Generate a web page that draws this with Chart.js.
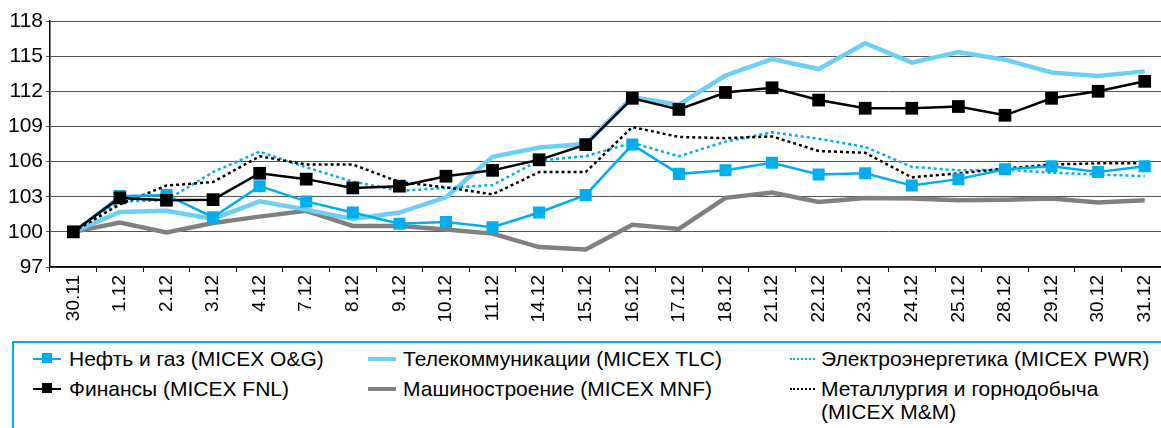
<!DOCTYPE html>
<html lang="ru">
<head>
<meta charset="utf-8">
<title>Отраслевые индексы ММВБ</title>
<script src="https://cdn.jsdelivr.net/npm/chart.js@4.4.1/dist/chart.umd.min.js"></script>
<style>
  html, body { margin: 0; padding: 0; background: #fff; width: 1161px; height: 428px; overflow: hidden; }
  #wrap { position: absolute; left: 0; top: 0; width: 1177px; height: 330px; }
  .legend {
    position: absolute; left: 12px; top: 341px; width: 1200px; height: 120px;
    border: 2px solid #00aeef;
    font-family: 'Liberation Sans', Arial, sans-serif; font-size: 21px; color: #000;
  }
  .item { position: absolute; line-height: 23px; white-space: nowrap; }
  .key { position: absolute; width: 28px; height: 23px; }
  .key i { position: absolute; left: 0; right: 0; top: 50%; }
  .key b { position: absolute; left: 9px; top: 6px; width: 10px; height: 10px; }
</style>
</head>
<body>
<div id="wrap"><canvas id="sectorChart"></canvas></div>

<div class="legend">
  <div class="key" style="left:19px;top:4px"><i style="border-top:2.5px solid #00aeef;margin-top:-1px"></i><b style="background:#00aeef"></b></div>
  <div class="item" style="left:55px;top:4px">Нефть и газ (MICEX O&amp;G)</div>
  <div class="key" style="left:19px;top:34px"><i style="border-top:2.5px solid #000;margin-top:-1px"></i><b style="background:#000"></b></div>
  <div class="item" style="left:55px;top:34px">Финансы (MICEX FNL)</div>

  <div class="key" style="left:354px;top:4px"><i style="border-top:4.5px solid #6dcff6;margin-top:-2px"></i></div>
  <div class="item" style="left:389px;top:4px">Телекоммуникации (MICEX TLC)</div>
  <div class="key" style="left:354px;top:34px"><i style="border-top:4.5px solid #808080;margin-top:-2px"></i></div>
  <div class="item" style="left:389px;top:34px">Машиностроение (MICEX MNF)</div>

  <div class="key" style="left:776px;top:4px;width:25px"><i style="border-top:2.5px dotted #00aeef;margin-top:-1px"></i></div>
  <div class="item" style="left:807px;top:4px">Электроэнергетика (MICEX PWR)</div>
  <div class="key" style="left:776px;top:34px;width:25px"><i style="border-top:2.5px dotted #000;margin-top:-1px"></i></div>
  <div class="item" style="left:807px;top:34px">Металлургия и горнодобыча<br>(MICEX M&amp;M)</div>
</div>

<script>
// trading days, 30 Nov - 31 Dec
const days = ['30.11', '1.12', '2.12', '3.12', '4.12', '7.12', '8.12', '9.12', '10.12', '11.12',
  '14.12', '15.12', '16.12', '17.12', '18.12', '21.12', '22.12', '23.12', '24.12', '25.12',
  '28.12', '29.12', '30.12', '31.12'];

// sector indices, 30.11 = 100
const finance = [100, 102.9, 102.7, 102.75, 105.0, 104.5, 103.75, 103.9, 104.75, 105.25,
  106.15, 107.45, 111.4, 110.45, 111.9, 112.3, 111.25, 110.55, 110.55, 110.7,
  109.95, 111.4, 112.0, 112.85];
const oilGas = [100, 103.05, 103.15, 101.25, 103.9, 102.6, 101.65, 100.7, 100.85, 100.4,
  101.65, 103.15, 107.45, 104.95, 105.25, 105.9, 104.9, 105.0, 103.95, 104.5,
  105.35, 105.6, 105.1, 105.6];
const telecom = [100, 101.7, 101.8, 101.1, 102.6, 101.9, 101.1, 101.65, 102.95, 106.4,
  107.2, 107.5, 111.5, 110.85, 113.35, 114.75, 113.9, 116.1, 114.45, 115.35,
  114.7, 113.6, 113.3, 113.7];
const power = [100, 102.6, 102.7, 105.1, 106.85, 105.5, 104.3, 103.5, 103.75, 104.0,
  106.1, 106.45, 107.6, 106.45, 107.7, 108.5, 107.95, 107.25, 105.55, 105.25,
  105.3, 105.05, 104.9, 104.75];
const metals = [100, 102.35, 103.95, 104.25, 106.45, 105.75, 105.75, 104.25, 103.8, 103.2,
  105.1, 105.1, 108.95, 108.1, 108.0, 108.15, 106.9, 106.75, 104.65, 105.0,
  105.4, 105.75, 105.85, 105.85];
const machinery = [100, 100.8, 99.95, 100.75, 101.3, 101.8, 100.5, 100.5, 100.2, 99.85,
  98.7, 98.5, 100.6, 100.25, 102.9, 103.35, 102.55, 102.9, 102.85, 102.7,
  102.75, 102.85, 102.5, 102.7];

const yMin = 97, yMax = 118, yStep = 3;

const font = { family: "'Liberation Sans', Arial, sans-serif" };

new Chart(document.getElementById('sectorChart').getContext('2d'), {
  type: 'line',
  data: {
    labels: days,
    datasets: [
      { label: 'Финансы (MICEX FNL)', data: finance, borderColor: '#000', backgroundColor: '#000',
        borderWidth: 2.5, pointStyle: 'rect', pointRadius: 9, pointBorderWidth: 0 },
      { label: 'Нефть и газ (MICEX O&G)', data: oilGas, borderColor: '#00aeef', backgroundColor: '#00aeef',
        borderWidth: 2.5, pointStyle: 'rect', pointRadius: 8.5, pointBorderWidth: 0 },
      { label: 'Металлургия и горнодобыча (MICEX M&M)', data: metals, borderColor: '#000',
        borderWidth: 2.5, borderDash: [3, 3], pointRadius: 0 },
      { label: 'Электроэнергетика (MICEX PWR)', data: power, borderColor: '#00aeef',
        borderWidth: 2.5, borderDash: [3, 3], pointRadius: 0 },
      { label: 'Телекоммуникации (MICEX TLC)', data: telecom, borderColor: '#6dcff6',
        borderWidth: 4.5, pointRadius: 0 },
      { label: 'Машиностроение (MICEX MNF)', data: machinery, borderColor: '#808080',
        borderWidth: 4.5, pointRadius: 0 }
    ]
  },
  options: {
    responsive: true,
    maintainAspectRatio: false,
    animation: false,
    layout: { padding: { top: 21, left: 0, right: 0, bottom: 0 } },
    plugins: { legend: { display: false }, tooltip: { enabled: false } },
    scales: {
      x: {
        offset: true,
        grid: { offset: true, drawOnChartArea: false, color: '#000', tickLength: 5 },
        border: { color: '#000', width: 1.5 },
        ticks: { autoSkip: false, minRotation: 90, maxRotation: 90, padding: 3, color: '#000',
          font: { ...font, size: 19 } },
        afterFit: s => { s.height = 63; }
      },
      y: {
        min: yMin, max: yMax,
        grid: { color: '#555', tickLength: 4 },
        border: { color: '#000', width: 1.5 },
        ticks: { stepSize: yStep, padding: 3, color: '#000', font: { ...font, size: 21 } },
        afterFit: s => { s.width = 50; }
      }
    }
  }
});
</script>
</body>
</html>
